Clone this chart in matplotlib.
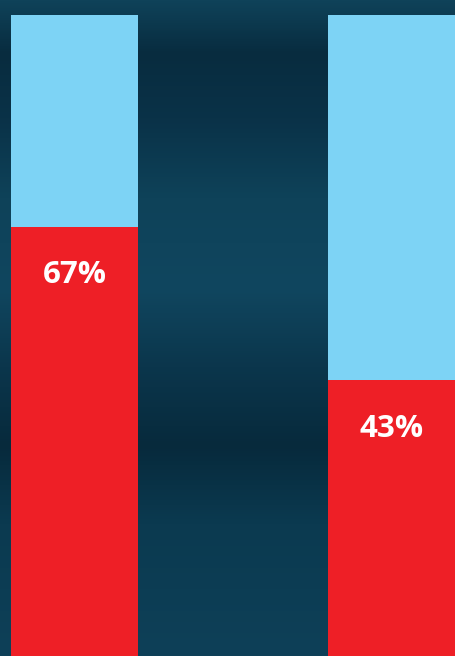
import matplotlib
matplotlib.use("Agg")
import matplotlib.pyplot as plt
import numpy as np
from matplotlib.colors import LinearSegmentedColormap

categories = ["A", "B"]
share_values = [67, 43]
rest_values = [100 - v for v in share_values]
labels = ["67%", "43%"]

fig = plt.figure(figsize=(4.56, 6.56), dpi=100)
ax = fig.add_axes([0, 0, 1, 1])

# decorative background gradient (dark navy bands), stop 0 = top
stops = [(0.0, "#0f4259"), (0.08, "#082c3f"), (0.18, "#0a3248"), (0.3, "#0e4259"),
         (0.44, "#10465f"), (0.56, "#0b364c"), (0.68, "#072a3c"), (0.8, "#0b3a50"),
         (1.0, "#0e4058")]
cmap = LinearSegmentedColormap.from_list("bg", stops)
grad = np.linspace(0, 1, 256).reshape(-1, 1)
ax.imshow(grad, aspect="auto", cmap=cmap, extent=[-0.235, 1.2035, 0, 102.34],
          zorder=0, origin="upper")

x = np.arange(len(categories))
w = 0.4006
ax.bar(x, share_values, width=w, color="#ee1f26", zorder=2)
ax.bar(x, rest_values, width=w, bottom=share_values, color="#7dd3f5", zorder=2)

for xi, v, lab in zip(x, share_values, labels):
    ax.text(xi, v - 7.6, lab, ha="center", va="center", color="white",
            fontsize=22.5, fontweight="bold", family="Open Sans", zorder=3)

ax.set_xlim(-0.235, 1.2035)
ax.set_ylim(0, 102.34)
ax.axis("off")
fig.savefig("out.png", dpi=100)
